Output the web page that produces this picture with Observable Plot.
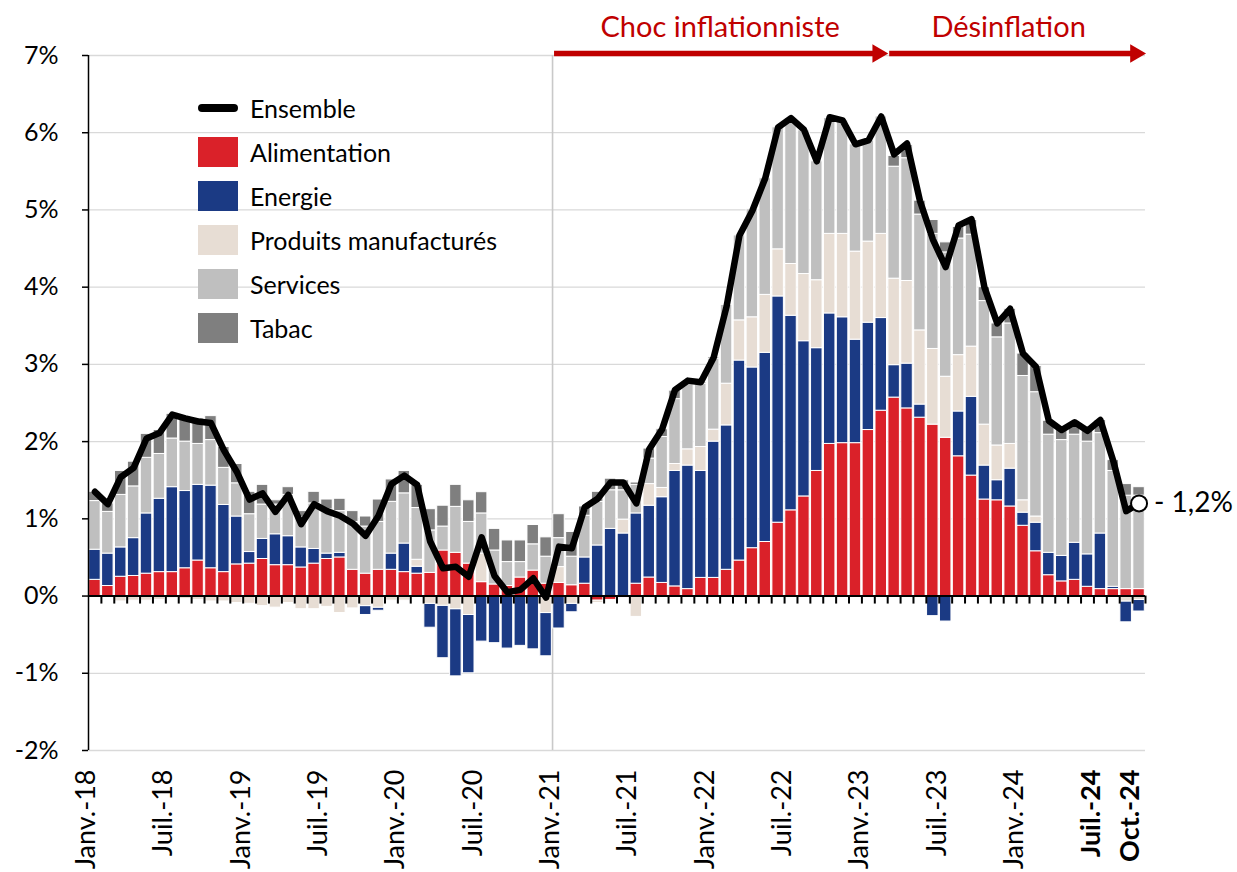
<!DOCTYPE html>
<html>
<head>
<meta charset="utf-8">
<script src="https://cdn.jsdelivr.net/npm/d3@7"></script>
<script src="https://cdn.jsdelivr.net/npm/@observablehq/plot@0.6"></script>
<style>
  body { margin: 0; background: #fff; }
  #wrap { position: relative; width: 1237px; height: 872px; overflow: hidden; background: #fff; font-family: Lato, "Noto Sans", sans-serif; }
  #wrap svg { position: absolute; left: 0; top: 0; }
  .row { position: absolute; left: 198px; height: 30px; display: flex; align-items: center; }
  .sw { width: 40px; height: 30px; flex: none; }
  .ln { width: 40px; height: 8px; border-radius: 4px; background: #000; flex: none; }
  .lab { margin-left: 12px; font-size: 25px; line-height: 30px; color: #000; white-space: nowrap; }
</style>
</head>
<body>
<div id="wrap"></div>
<script>
// ---------- data (contributions, points de %) ----------
const categories = ["Alimentation", "Energie", "Produits manufacturés", "Services", "Tabac"];
const colors = ["#DA2129", "#1B3A84", "#E7DDD4", "#BFBFBF", "#7F7F7F"];

const alimentation = [0.21,0.13,0.25,0.26,0.29,0.31,0.31,0.36,0.46,0.36,0.31,0.41,
  0.42,0.48,0.40,0.40,0.37,0.42,0.48,0.50,0.34,0.29,0.34,0.34,
  0.31,0.29,0.30,0.59,0.56,0.42,0.18,0.15,0.13,0.24,0.33,0.16,
  0.17,0.14,0.16,-0.06,-0.05,-0.02,0.16,0.24,0.17,0.125,0.09,0.235,
  0.235,0.34,0.46,0.62,0.70,0.95,1.11,1.29,1.62,1.97,1.98,1.98,
  2.15,2.40,2.57,2.43,2.31,2.22,2.05,1.81,1.56,1.25,1.24,1.16,
  0.91,0.58,0.27,0.19,0.21,0.12,0.09,0.09,0.09,0.09];
const energie = [0.39,0.42,0.38,0.49,0.78,0.95,1.10,1.00,0.98,1.07,0.87,0.62,
  0.15,0.26,0.40,0.375,0.26,0.19,0.07,0.06,0,-0.115,-0.04,0.21,
  0.37,0.09,-0.31,-0.68,-0.87,-0.755,-0.59,-0.61,-0.68,-0.645,-0.69,-0.56,
  -0.42,-0.11,0.34,0.655,0.87,0.81,0.91,0.93,1.11,1.495,1.60,1.385,
  1.765,1.87,2.59,2.34,2.45,2.93,2.52,2.01,1.59,1.69,1.63,1.34,
  1.39,1.20,0.42,0.58,0.17,-0.26,-0.33,0.58,1.02,0.44,0.26,0.49,
  0.17,0.37,0.29,0.33,0.48,0.42,0.72,0.03,-0.27,-0.15];
const produits = [0,0,-0.07,-0.06,-0.06,-0.05,-0.03,-0.04,-0.05,-0.07,-0.07,-0.09,
  -0.10,-0.13,-0.15,-0.09,-0.17,-0.17,-0.14,-0.22,-0.16,-0.13,-0.15,-0.06,
  -0.06,0.09,-0.10,-0.125,-0.17,-0.245,0.37,0,0,0,0,-0.22,
  0.205,-0.10,0,-0.03,0,0.18,-0.27,0.28,0.12,0.09,0.21,0.31,
  0.155,0.54,0.52,0.65,0.75,0.61,0.67,0.87,0.88,1.03,1.08,1.14,
  1.05,1.09,1.12,1.07,0.96,0.98,0.79,0.73,0.65,0.53,0.45,0.32,
  0.16,0.08,0,0,0,0,0,0,-0.07,-0.05];
const services = [0.63,0.54,0.68,0.67,0.72,0.58,0.63,0.64,0.53,0.59,0.48,0.43,
  0.49,0.445,0.385,0.535,0.39,0.59,0.57,0.54,0.62,0.61,0.62,0.67,
  0.65,0.67,0.55,0.31,0.595,0.54,0.52,0.44,0.31,0.20,0.34,0.35,
  0.375,0.37,0.54,0.565,0.50,0.38,0.37,0.33,0.66,0.84,0.86,0.82,
  0.92,1.02,1.10,1.40,1.51,1.58,1.89,1.86,1.54,1.50,1.47,1.39,
  1.31,1.52,1.45,1.59,1.50,1.49,1.61,1.51,1.45,1.60,1.40,1.56,
  1.61,1.61,1.53,1.50,1.40,1.46,1.30,1.50,1.21,1.21];
const tabac = [0.12,0.11,0.31,0.32,0.31,0.31,0.32,0.33,0.33,0.31,0.27,0.25,
  0.29,0.255,0.055,0.10,0.08,0.15,0.13,0.16,0.14,0.13,0.29,0.29,
  0.29,0.30,0.275,0.27,0.285,0.28,0.275,0.28,0.28,0.28,0.25,0.25,
  0.31,0.32,0.12,0.13,0.15,0.13,0.03,0.13,0.10,0.11,0.02,0.02,
  0.02,0,0,0,0,0,0,0,0,0,0,0,
  0,0,0.14,0.17,0.18,0.18,0.13,0.15,0.19,0.18,0.18,0.19,
  0.29,0.34,0.18,0.13,0.15,0.14,0.17,0.14,0.15,0.11];
const ensemble = [1.35,1.19,1.54,1.66,2.04,2.11,2.35,2.30,2.26,2.24,1.89,1.61,
  1.25,1.33,1.09,1.31,0.93,1.19,1.10,1.04,0.94,0.78,1.04,1.45,
  1.56,1.44,0.71,0.36,0.38,0.25,0.76,0.26,0.05,0.08,0.23,-0.02,
  0.64,0.62,1.15,1.26,1.47,1.47,1.20,1.90,2.16,2.67,2.79,2.77,
  3.09,3.75,4.67,4.99,5.41,6.07,6.19,6.04,5.63,6.20,6.16,5.85,
  5.90,6.21,5.72,5.86,5.12,4.62,4.26,4.80,4.88,4.00,3.53,3.72,
  3.14,2.97,2.27,2.15,2.25,2.14,2.28,1.75,1.10,1.20];

// months Jan 2018 .. Oct 2024
const months = d3.utcMonth.range(new Date(Date.UTC(2018, 0, 1)), new Date(Date.UTC(2024, 10, 1)));
const xTickLabels = ["Janv.-18","Juil.-18","Janv.-19","Juil.-19","Janv.-20","Juil.-20","Janv.-21",
  "Juil.-21","Janv.-22","Juil.-22","Janv.-23","Juil.-23","Janv.-24","Juil.-24","Oct.-24"];
const xTickMonths = ["2018-01","2018-07","2019-01","2019-07","2020-01","2020-07","2021-01",
  "2021-07","2022-01","2022-07","2023-01","2023-07","2024-01","2024-07","2024-10"];
const boldTicks = ["Juil.-24", "Oct.-24"];
const yTicks = [-2,-1,0,1,2,3,4,5,6,7];
const periods = [
  {label: "Choc inflationniste", start: "2021-01", end: "2023-03", shift: 0},
  {label: "Désinflation", start: "2023-03", end: "2024-11", shift: -8}
];
const lastLabel = "- 1,2%";

// ---------- derived tables ----------
const key = d => d3.utcFormat("%Y-%m")(d);
const monthIndex = new Map(months.map((m, i) => [key(m), i]));
const mIdx = s => monthIndex.has(s) ? monthIndex.get(s) : months.length; // "2024-11" = right edge
const seriesList = [alimentation, energie, produits, services, tabac];
const rows = categories.flatMap((c, k) => seriesList[k].map((v, i) => ({i, cat: c, v})));
const pos = rows.filter(d => d.v > 0);
const neg = rows.filter(d => d.v < 0);
const posOrder = ["Alimentation", "Energie", "Produits manufacturés", "Services", "Tabac"];
const negOrder = ["Alimentation", "Produits manufacturés", "Energie", "Services", "Tabac"];
const line = ensemble.map((v, i) => ({i, v}));
const last = [line[line.length - 1]];
const ticks = xTickMonths.map((m, j) => ({i: mIdx(m), label: xTickLabels[j]}));
const per = periods.map(p => ({...p, s: mIdx(p.start), e: mIdx(p.end)}));
const boundaries = d3.range(1, months.length + 1);
const N = months.length;

const red = "#C00000";

const chart = Plot.plot({
  width: 1237,
  height: 872,
  marginLeft: 88,
  marginRight: 92,
  marginTop: 55,
  marginBottom: 122,
  x: {type: "linear", domain: [0, N], axis: null},
  y: {domain: [-2, 7], axis: null},
  color: {domain: categories, range: colors},
  style: {fontFamily: "Lato, 'Noto Sans', sans-serif", background: "white", overflow: "visible", color: "black"},
  marks: [
    Plot.ruleY(yTicks.filter(t => t !== 0), {x1: 0, x2: N, stroke: "#d9d9d9", strokeWidth: 1.3}),
    Plot.ruleX([mIdx("2021-01")], {y1: -2, y2: 7, stroke: "#c9c9c9", strokeWidth: 1.6}),
    Plot.rectY(pos, {x: "i", interval: 1, y: "v", fill: "cat", order: posOrder,
      stroke: "white", strokeWidth: 1, insetLeft: 0.7, insetRight: 0.7}),
    Plot.rectY(neg, {x: "i", interval: 1, y: "v", fill: "cat", order: negOrder,
      stroke: "white", strokeWidth: 1, insetLeft: 0.7, insetRight: 0.7}),
    Plot.ruleY([0], {x1: 0, x2: N, stroke: "black", strokeWidth: 2}),
    Plot.ruleX(boundaries, {y1: 0, y2: 0, insetBottom: -8, stroke: "black", strokeWidth: 2}),
    Plot.ruleX([0], {y1: -2, y2: 7, stroke: "black", strokeWidth: 1.5}),
    Plot.ruleY(yTicks, {x1: 0, x2: 0, insetLeft: -6, stroke: "black", strokeWidth: 1.5}),
    Plot.text(yTicks, {y: d => d, text: d => `${d}%`, frameAnchor: "left", textAnchor: "end", dx: -30, fontSize: 25, fill: "black"}),
    Plot.text(ticks.filter(t => !boldTicks.includes(t.label)), {x: d => d.i + 0.5, text: "label", frameAnchor: "bottom",
      rotate: -90, textAnchor: "end", dy: 19, fontSize: 27, fill: "black"}),
    Plot.text(ticks.filter(t => boldTicks.includes(t.label)), {x: d => d.i + 0.5, text: "label", frameAnchor: "bottom",
      rotate: -90, textAnchor: "end", dy: 19, fontSize: 27, fontWeight: "bold", fill: "black"}),
    Plot.line(line, {x: d => d.i + 0.5, y: "v", stroke: "black", strokeWidth: 6.5, strokeLinejoin: "round", strokeLinecap: "round"}),
    Plot.dot(last, {x: d => d.i + 0.5, y: "v", r: 8, fill: "white", stroke: "black", strokeWidth: 2}),
    Plot.text(last, {x: d => d.i + 0.5, y: "v", text: () => lastLabel, dx: 15, textAnchor: "start", fontSize: 28, fill: "black"}),
    // period arrows
    Plot.ruleY(per, {x1: "s", x2: "e", y: () => 7, dy: -2, insetLeft: 2, insetRight: 12, stroke: red, strokeWidth: 5.5}),
    Plot.dot(per, {x: "e", y: () => 7, dy: -2, dx: -10, symbol: "triangle", rotate: 90, r: 6.8, fill: red, stroke: "none"}),
    Plot.text(per.filter(d => d.shift === 0), {x: d => (d.s + d.e) / 2, y: () => 7, dy: -28, text: "label", fontSize: 29, fill: red}),
    Plot.text(per.filter(d => d.shift !== 0), {x: d => (d.s + d.e) / 2, y: () => 7, dy: -28, dx: -8, text: "label", fontSize: 29, fill: red})
  ]
});

const wrap = document.getElementById("wrap");
wrap.appendChild(chart);

// legend
const legendRows = [
  {label: "Ensemble", type: "line", center: 108},
  ...categories.map((c, k) => ({label: c, type: "box", color: colors[k], center: 152 + 44 * k}))
];
for (const r of legendRows) {
  const row = document.createElement("div");
  row.className = "row";
  row.style.top = (r.center - 15) + "px";
  const sw = document.createElement("div");
  if (r.type === "line") sw.className = "ln"; else { sw.className = "sw"; sw.style.background = r.color; }
  const lab = document.createElement("div");
  lab.className = "lab";
  lab.textContent = r.label;
  row.appendChild(sw);
  row.appendChild(lab);
  wrap.appendChild(row);
}
</script>
</body>
</html>
